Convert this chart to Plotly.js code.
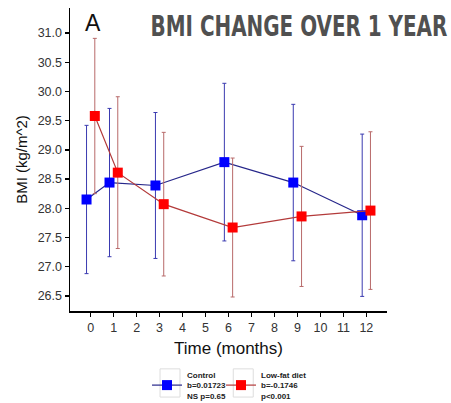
<!DOCTYPE html>
<html>
<head>
<meta charset="utf-8">
<script src="https://cdn.plot.ly/plotly-3.0.1.min.js"></script>
<style>html,body{margin:0;padding:0;background:#fff;}#chart{width:451px;height:403px;}</style>
</head>
<body>
<div id="chart"></div>
<script>
// Data
const months = [0, 1, 3, 6, 9, 12];
const controlBMI = [28.15, 28.44, 28.39, 28.79, 28.44, 27.88];
const controlErr = [1.27, 1.27, 1.25, 1.35, 1.34, 1.39];
const lowFatBMI = [29.58, 28.61, 28.07, 27.67, 27.86, 27.96];
const lowFatErr = [1.33, 1.30, 1.23, 1.19, 1.20, 1.35];
const tickVals = [0,1,2,3,4,5,6,7,8,9,10,11,12];
const controlName = 'Control<br>b=0.01723<br>NS p=0.65';
const lowFatName = 'Low-fat diet<br>b=-0.1746<br>p<0.001';

const dodge = 0.18;

const traces = [
  {
    x: months.map(m => m - dodge), y: controlBMI, name: controlName, legend: 'legend',
    type: 'scatter', mode: 'lines+markers',
    line: {color: '#26268a', width: 1.2},
    marker: {symbol: 'square', size: 10, color: '#0000ff'},
    error_y: {type: 'data', array: controlErr, visible: true, color: '#3a3ab0', thickness: 1, width: 2}
  },
  {
    x: months.map(m => m + dodge), y: lowFatBMI, name: lowFatName, legend: 'legend2',
    type: 'scatter', mode: 'lines+markers',
    line: {color: '#b33a3a', width: 1.2},
    marker: {symbol: 'square', size: 10, color: '#ff0000'},
    error_y: {type: 'data', array: lowFatErr, visible: true, color: '#b86a6a', thickness: 1, width: 2}
  }
];

const keyBox = (x0, x1) => ({type: 'rect', xref: 'paper', yref: 'paper', x0: x0, x1: x1, y0: -0.284, y1: -0.191,
  line: {color: '#dddddd', width: 1}, fillcolor: 'rgba(0,0,0,0)', layer: 'below'});

const legendBase = {
  orientation: 'h', xanchor: 'left', xref: 'container',
  y: 0.0, yanchor: 'bottom', yref: 'container',
  font: {size: 8, color: '#222', weight: 600},
  bgcolor: 'rgba(0,0,0,0)'
};

const layout = {
  width: 451, height: 403,
  margin: {l: 70, r: 64, t: 8, b: 92},
  paper_bgcolor: '#fff', plot_bgcolor: '#fff',
  font: {family: 'Liberation Sans, Arial, sans-serif', color: '#333'},
  title: {
    text: 'BMI CHANGE OVER 1 YEAR',
    font: {family: 'DejaVu Sans Condensed, Liberation Sans Narrow, Liberation Sans, sans-serif', size: 28, color: '#505050', weight: 'bold'},
    x: 0.992, xanchor: 'right', xref: 'container',
    y: 0.935, yanchor: 'middle', yref: 'container'
  },
  xaxis: {
    range: [-0.9, 12.9], tickvals: tickVals, ticktext: tickVals.map(String),
    showgrid: false, zeroline: false, showline: true, linecolor: '#000', linewidth: 1.5,
    ticks: 'outside', ticklen: 4, tickwidth: 1.5, tickcolor: '#000',
    tickfont: {size: 12.5, color: '#333'},
    title: {text: 'Time (months)', font: {size: 17, color: '#111'}, standoff: 12}
  },
  yaxis: {
    range: [26.24, 31.43], tickvals: [26.5, 27, 27.5, 28, 28.5, 29, 29.5, 30, 30.5, 31],
    tickformat: '.1f',
    showgrid: false, zeroline: false, showline: true, linecolor: '#000', linewidth: 1.5,
    ticks: 'outside', ticklen: 4, tickwidth: 1.5, tickcolor: '#000',
    tickfont: {size: 12.5, color: '#333'},
    title: {text: 'BMI (kg/m^2)', font: {size: 15, color: '#111'}, standoff: 6}
  },
  showlegend: true,
  legend: Object.assign({}, legendBase, {x: 0.326}),
  legend2: Object.assign({}, legendBase, {x: 0.49}),
  shapes: [keyBox(0.284, 0.347), keyBox(0.515, 0.578)],
  annotations: [
    {text: 'A', xref: 'paper', yref: 'paper', x: 0.04, y: 1.0, xanchor: 'left', yanchor: 'top',
     showarrow: false, font: {size: 23, color: '#111'}}
  ]
};

Plotly.newPlot('chart', traces, layout, {displayModeBar: false, staticPlot: true}).then(function () {
  // squeeze the title horizontally to mimic a condensed display face
  const t = document.querySelector('.gtitle');
  if (t) {
    const bb = t.getBBox();
    const targetW = 297;
    const sx = Math.min(1, targetW / bb.width);
    const right = bb.x + bb.width;
    t.setAttribute('transform', 'translate(' + (right * (1 - sx)) + ',0) scale(' + sx + ',1)');
  }
  // nudge legends a little lower, as in the reference
  document.querySelectorAll('g.legend, g.legend2').forEach(function (g) {
    const tr = g.getAttribute('transform') || '';
    const m = tr.match(/translate\(\s*([-\d.]+)[ ,]+([-\d.]+)\s*\)/);
    if (m) g.setAttribute('transform', 'translate(' + m[1] + ',' + (parseFloat(m[2]) + 5) + ')');
  });
});
</script>
</body>
</html>
